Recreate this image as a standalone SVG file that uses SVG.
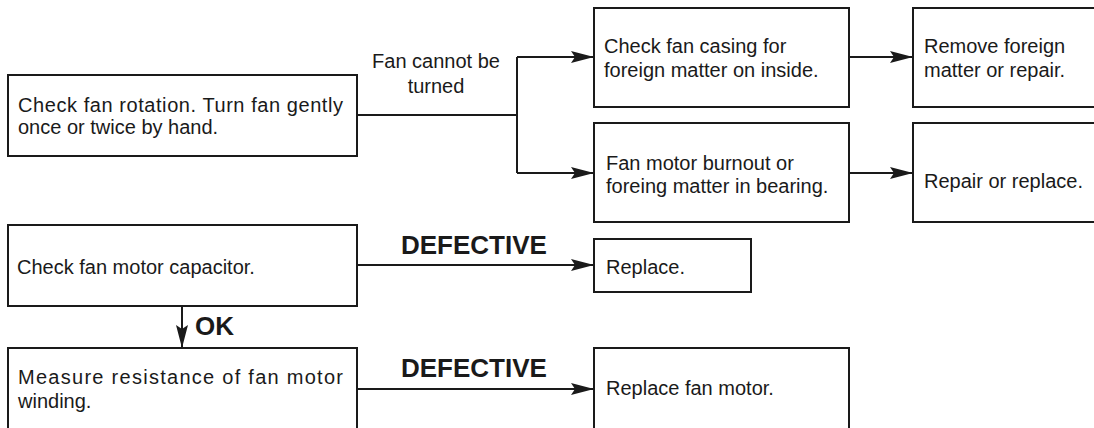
<svg xmlns="http://www.w3.org/2000/svg" width="1094" height="428" viewBox="0 0 1094 428">
<defs>
<style>
.box{fill:#fff;stroke:#1a1a1a;stroke-width:2}
.t{font-family:"Liberation Sans",Arial,sans-serif;font-size:20px;fill:#1a1a1a}
.b{font-family:"Liberation Sans",Arial,sans-serif;font-size:26px;font-weight:bold;fill:#1a1a1a}
.c{fill:none;stroke:#1a1a1a;stroke-width:2}
</style>
<marker id="ah" markerUnits="userSpaceOnUse" markerWidth="23" markerHeight="14" viewBox="0 0 23 14" refX="23" refY="7" orient="auto">
<path d="M0,1 L23,7 L0,13 L4,7 Z" fill="#1a1a1a"/>
</marker>
</defs>
<rect width="1094" height="428" fill="#fff"/>
<g id="connectors">
<path class="c" d="M357,115 H517"/>
<path class="c" d="M517,57 V173"/>
<path class="c" d="M517,57 H594" marker-end="url(#ah)"/>
<path class="c" d="M517,173 H594" marker-end="url(#ah)"/>
<path class="c" d="M849,57 H913" marker-end="url(#ah)"/>
<path class="c" d="M849,173 H913" marker-end="url(#ah)"/>
<path class="c" d="M357,265 H594" marker-end="url(#ah)"/>
<path class="c" d="M182,306 V348" marker-end="url(#ah)"/>
<path class="c" d="M357,389 H594" marker-end="url(#ah)"/>
<text class="t" x="436" y="68" text-anchor="middle">Fan cannot be</text>
<text class="t" x="436" y="93" text-anchor="middle">turned</text>
<text class="b" x="401" y="254">DEFECTIVE</text>
<text class="b" x="195" y="335">OK</text>
<text class="b" x="401" y="377">DEFECTIVE</text>
</g>
<g id="check-rotation">
<rect class="box" x="8" y="75" width="349" height="81"/>
<text class="t" x="18" y="112" textLength="325" lengthAdjust="spacing">Check fan rotation. Turn fan gently</text>
<text class="t" x="18" y="134">once or twice by hand.</text>
</g>
<g id="check-casing">
<rect class="box" x="594" y="8" width="255" height="99"/>
<text class="t" x="604" y="53">Check fan casing for</text>
<text class="t" x="604" y="77">foreign matter on inside.</text>
</g>
<g id="remove-foreign">
<rect class="box" x="913" y="8" width="200" height="99"/>
<text class="t" x="924" y="53">Remove foreign</text>
<text class="t" x="924" y="77">matter or repair.</text>
</g>
<g id="motor-burnout">
<rect class="box" x="594" y="123" width="255" height="99"/>
<text class="t" x="606" y="170">Fan motor burnout or</text>
<text class="t" x="606" y="193">foreing matter in bearing.</text>
</g>
<g id="repair-replace">
<rect class="box" x="913" y="123" width="200" height="99"/>
<text class="t" x="924" y="188">Repair or replace.</text>
</g>
<g id="check-capacitor">
<rect class="box" x="8" y="225" width="349" height="81"/>
<text class="t" x="17" y="274">Check fan motor capacitor.</text>
</g>
<g id="replace">
<rect class="box" x="594" y="239" width="157" height="53"/>
<text class="t" x="606" y="274">Replace.</text>
</g>
<g id="measure-resistance">
<rect class="box" x="8" y="348" width="349" height="100"/>
<text class="t" x="18" y="384" textLength="325" lengthAdjust="spacing">Measure resistance of fan motor</text>
<text class="t" x="18" y="408">winding.</text>
</g>
<g id="replace-motor">
<rect class="box" x="594" y="348" width="255" height="100"/>
<text class="t" x="606" y="395">Replace fan motor.</text>
</g>
</svg>
